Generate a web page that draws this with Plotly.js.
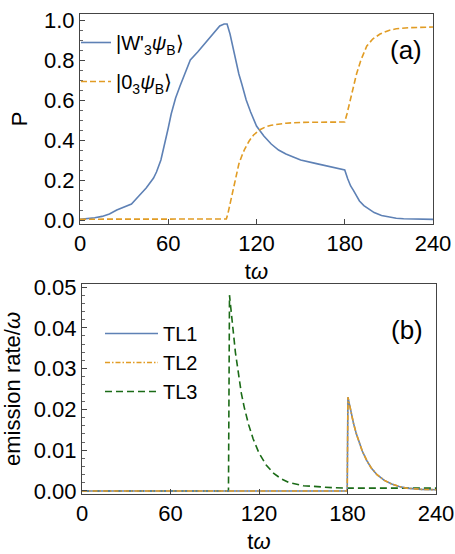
<!DOCTYPE html>
<html>
<head>
<meta charset="utf-8">
<script src="https://cdn.plot.ly/plotly-3.0.1.min.js"></script>
<style>html,body{margin:0;padding:0;background:#fff}#chart{width:455px;height:554px}</style>
</head>
<body>
<div id="chart"></div>
<script>
// ---- Panel (a): populations ----
var tW = [0,5,10,15,20,25,30,35,40,45,50,52,55,57,60,62,65,68,72,75,80,85,90,95,98,100,102,104,106,108,110,113,116,120,125,130,135,140,145,150,160,170,180,182,184,186,188,190,193,196,200,205,210,215,220,230,240];
var pW = [0.003,0.006,0.011,0.018,0.03,0.05,0.065,0.08,0.12,0.16,0.21,0.24,0.3,0.36,0.46,0.53,0.61,0.67,0.75,0.8,0.84,0.885,0.93,0.97,0.98,0.98,0.93,0.86,0.79,0.73,0.68,0.6,0.54,0.47,0.42,0.38,0.35,0.33,0.315,0.3,0.283,0.265,0.25,0.206,0.17,0.147,0.118,0.095,0.072,0.055,0.037,0.022,0.014,0.009,0.006,0.004,0.003];
var t0 = [0,20,40,60,80,99.5,100.5,102,104,106,108,110,112,115,118,122,126,130,140,150,165,180,181.5,183.6,186,188,191,195,199,204,210,215,225,240];
var p0 = [0.004,0.004,0.004,0.004,0.004,0.005,0.03,0.08,0.16,0.23,0.28,0.32,0.355,0.395,0.425,0.45,0.465,0.474,0.484,0.488,0.49,0.49,0.53,0.6,0.68,0.73,0.8,0.87,0.905,0.93,0.948,0.956,0.962,0.965];

// ---- Panel (b): emission rates ----
var tTL = [0,60,120,179.8,180.3,182,184,186,188,190,193,196,200,205,210,215,220,230,240];
var tl1Rate = [0,0,0,0,0.023,0.0199,0.0167,0.014,0.0117,0.0098,0.0075,0.0057,0.004,0.0026,0.0017,0.0011,0.0007,0.0004,0.0003];
var tl2Rate = [0,0,0,0,0.023,0.0199,0.0167,0.014,0.0117,0.0098,0.0075,0.0057,0.004,0.0026,0.0017,0.0011,0.0007,0.0004,0.0003];
var tTL3 = [0,50,99.3,100,102,104,106,108,110,113,116,120,125,130,135,140,150,160,170,180,200,220,240];
var tl3Rate = [0,0,0,0.048,0.0405,0.034,0.029,0.024,0.0205,0.0162,0.0128,0.0093,0.0063,0.0043,0.003,0.0021,0.0013,0.001,0.0008,0.0007,0.0007,0.0007,0.0007];

var xTicks = [0,60,120,180,240];
var yTicksA = [0,0.2,0.4,0.6,0.8,1.0];
var yTickTextA = ['0.0','0.2','0.4','0.6','0.8','1.0'];
var yTicksB = [0,0.01,0.02,0.03,0.04,0.05];
var yTickTextB = ['0.00','0.01','0.02','0.03','0.04','0.05'];

var legendW = '|W\'<sub>3</sub><i>ψ</i><sub>B</sub>⟩';
var legend0 = '|0<sub>3</sub><i>ψ</i><sub>B</sub>⟩';

var BLUE = '#5E81B5', ORANGE = '#E19C24', GREEN = '#1B6B17';
var FONT = 'Liberation Sans, Arial, sans-serif';

var traces = [
  {x: tW, y: pW, mode: 'lines', name: legendW, line: {color: BLUE, width: 1.6}, xaxis: 'x', yaxis: 'y', legend: 'legend', legendgroup: 'a'},
  {x: t0, y: p0, mode: 'lines', name: legend0, line: {color: ORANGE, width: 1.6, dash: '6px,3px'}, xaxis: 'x', yaxis: 'y', legend: 'legend', legendgroup: 'b'},
  {x: tTL3, y: tl3Rate, mode: 'lines', name: 'TL3', line: {color: GREEN, width: 1.6, dash: '7px,4px'}, xaxis: 'x2', yaxis: 'y2', legend: 'legend2', legendgroup: 'e', legendrank: 3},
  {x: tTL, y: tl1Rate, mode: 'lines', name: 'TL1', line: {color: BLUE, width: 1.6}, xaxis: 'x2', yaxis: 'y2', legend: 'legend2', legendgroup: 'c', legendrank: 1},
  {x: tTL, y: tl2Rate, mode: 'lines', name: 'TL2', line: {color: ORANGE, width: 1.6, dash: '5px,2px,1.5px,2px'}, xaxis: 'x2', yaxis: 'y2', legend: 'legend2', legendgroup: 'd', legendrank: 2}
];

var W = 455, H = 554;
function px(x){return x/W;}
function py(y){return 1 - y/H;}

var axisCommon = {
  showline: true, linecolor: '#444', linewidth: 1, mirror: true,
  ticks: 'inside', ticklen: 5, tickcolor: '#444', tickwidth: 1,
  showgrid: false, zeroline: false,
  tickfont: {family: FONT, size: 22, color: '#000'}
};

var layout = {
  width: W, height: H,
  margin: {l: 0, r: 0, t: 0, b: 0},
  paper_bgcolor: '#fff', plot_bgcolor: '#fff',
  font: {family: FONT, color: '#000'},
  showlegend: true,
  xaxis: Object.assign({}, axisCommon, {
    domain: [px(80), px(433)], range: [0, 240], tickmode: 'array', tickvals: xTicks, anchor: 'y',
    title: {text: 't<i>ω</i>', font: {family: FONT, size: 22}, standoff: 8}
  }),
  yaxis: Object.assign({}, axisCommon, {
    domain: [py(224), py(14)], range: [-0.02, 1.03], tickmode: 'array', tickvals: yTicksA, ticktext: yTickTextA, anchor: 'x',
    minor: {dtick: 0.05, ticks: 'inside', ticklen: 3, tickcolor: '#666'},
    title: {text: 'P', font: {family: FONT, size: 22}, standoff: 10}
  }),
  xaxis2: Object.assign({}, axisCommon, {
    domain: [px(82), px(436)], range: [0, 240], tickmode: 'array', tickvals: xTicks, anchor: 'y2',
    title: {text: 't<i>ω</i>', font: {family: FONT, size: 22}, standoff: 8}
  }),
  yaxis2: Object.assign({}, axisCommon, {
    domain: [py(494), py(284)], range: [-0.00074, 0.05074], tickmode: 'array', tickvals: yTicksB, ticktext: yTickTextB, anchor: 'x2',
    minor: {dtick: 0.002, ticks: 'inside', ticklen: 3, tickcolor: '#666'},
    title: {text: 'emission rate/<i>ω</i>', font: {family: FONT, size: 22}, standoff: 10}
  }),
  legend: {
    x: px(76), y: py(23), xanchor: 'left', yanchor: 'top',
    bgcolor: 'rgba(0,0,0,0)', borderwidth: 0, tracegroupgap: 10,
    font: {family: FONT, size: 20, color: '#000'}
  },
  legend2: {
    x: px(100), y: py(314), xanchor: 'left', yanchor: 'top',
    bgcolor: 'rgba(0,0,0,0)', borderwidth: 0, tracegroupgap: 14, itemwidth: 53,
    traceorder: 'normal',
    font: {family: FONT, size: 20, color: '#000'}
  },
  annotations: [
    {text: '(a)', xref: 'paper', yref: 'paper', x: px(406), y: py(50), xanchor: 'center', yanchor: 'middle', showarrow: false, font: {family: FONT, size: 26, color: '#000'}},
    {text: '(b)', xref: 'paper', yref: 'paper', x: px(407), y: py(330), xanchor: 'center', yanchor: 'middle', showarrow: false, font: {family: FONT, size: 26, color: '#000'}}
  ]
};

Plotly.newPlot('chart', traces, layout, {displayModeBar: false, staticPlot: true});
</script>
</body>
</html>
